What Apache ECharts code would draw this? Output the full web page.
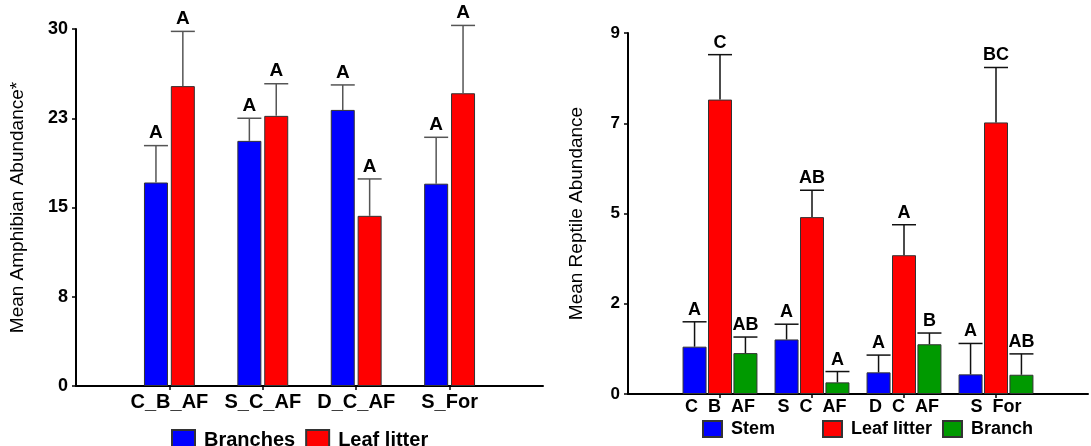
<!DOCTYPE html>
<html>
<head>
<meta charset="utf-8">
<script src="https://cdn.jsdelivr.net/npm/echarts@6/dist/echarts.min.js"></script>
<style>html,body{margin:0;padding:0;background:#fff}#c{width:1091px;height:446px}</style>
</head>
<body>
<div id="c"></div>
<script>
// ---- Left chart (amphibians) ----
const amphCategories = ['C_B_AF', 'S_C_AF', 'D_C_AF', 'S_For'];
const amphBranches = [17.1, 20.6, 23.2, 17.0];
const amphBranchesSE = [3.1, 1.9, 2.1, 3.9];
const amphLeaf = [25.2, 22.7, 14.3, 24.6];
const amphLeafSE = [4.6, 2.7, 3.1, 5.7];
const amphBranchesLetters = ['A', 'A', 'A', 'A'];
const amphLeafLetters = ['A', 'A', 'A', 'A'];
const amphTicks = { min: 0, max: 30, interval: 7.5 };

// ---- Right chart (reptiles) ----
const reptCategories = ['C  B  AF', 'S  C  AF', 'D  C  AF', 'S  For'];
const reptStem = [1.18, 1.36, 0.54, 0.49];
const reptStemSE = [0.62, 0.38, 0.43, 0.77];
const reptLeaf = [7.34, 4.41, 3.46, 6.77];
const reptLeafSE = [1.12, 0.67, 0.76, 1.37];
const reptBranch = [1.02, 0.29, 1.24, 0.48];
const reptBranchSE = [0.40, 0.27, 0.28, 0.52];
const reptStemLetters = ['A', 'A', 'A', 'A'];
const reptLeafLetters = ['C', 'AB', 'A', 'BC'];
const reptBranchLetters = ['AB', 'A', 'B', 'AB'];
const reptTicks = { min: 0, max: 9, interval: 2.25 };

const FONT = 'Liberation Sans, Arial, sans-serif';
const BLUE = '#0000ff', RED = '#ff0000', GREEN = '#009a00';
const BAR_W = 24;

const pad = arr => ['-'].concat(arr, ['-']);
const padCat = arr => [''].concat(arr, ['']);

function barSeries(name, vals, color, idx, gap) {
  return {
    type: 'bar', name: name, data: pad(vals), xAxisIndex: idx, yAxisIndex: idx,
    barWidth: BAR_W, barGap: gap,
    itemStyle: { color: color, borderColor: '#333', borderWidth: 1 },
    z: 2
  };
}

function errSeries(vals, ses, letters, offset, lineColor, idx, fontSize) {
  const data = vals.map((m, i) => [i + 1, m, m + ses[i]]);
  return {
    type: 'custom', xAxisIndex: idx, yAxisIndex: idx, z: 5, silent: true,
    data: data,
    renderItem: function (params, api) {
      const top = api.coord([api.value(0), api.value(2)]);
      const base = api.coord([api.value(0), api.value(1)]);
      const x = top[0] + offset;
      const st = { stroke: lineColor, lineWidth: 1.5 };
      return {
        type: 'group',
        children: [
          { type: 'line', shape: { x1: x, y1: base[1], x2: x, y2: top[1] }, style: st },
          { type: 'line', shape: { x1: x - BAR_W / 2, y1: top[1], x2: x + BAR_W / 2, y2: top[1] }, style: st },
          { type: 'text', style: { text: letters[params.dataIndex], x: x, y: top[1] - 3,
              textAlign: 'center', textVerticalAlign: 'bottom',
              font: 'bold ' + fontSize + 'px ' + FONT, fill: '#000' } }
        ]
      };
    }
  };
}

function xAxis(cats, idx, fontSize, margin) {
  return {
    type: 'category', gridIndex: idx, data: padCat(cats), boundaryGap: false,
    axisLine: { lineStyle: { color: '#000', width: 2 } },
    axisTick: { show: true, length: 4, lineStyle: { color: '#000', width: 1.5 },
      interval: (i) => i > 0 && i < cats.length + 1 },
    axisLabel: { interval: 0, margin: margin, color: '#000', fontWeight: 'bold', fontSize: fontSize, fontFamily: FONT },
    splitLine: { show: false }
  };
}

function yAxis(t, idx, name, nameGap, fontSize) {
  return {
    type: 'value', gridIndex: idx, min: t.min, max: t.max, interval: t.interval,
    name: name, nameLocation: 'middle', nameGap: nameGap,
    nameTextStyle: { color: '#000', fontSize: 19, fontFamily: FONT },
    axisLine: { show: true, lineStyle: { color: '#000', width: 2 } },
    axisTick: { show: true, length: 4, lineStyle: { color: '#000', width: 1.5 } },
    axisLabel: { margin: 8, color: '#000', fontWeight: 'bold', fontSize: fontSize, fontFamily: FONT,
      formatter: v => String(Math.round(v)) },
    splitLine: { show: false }
  };
}

const legendText = (fs) => ({ color: '#000', fontWeight: 'bold', fontSize: fs, fontFamily: FONT, padding: [0, 0, 0, 4] });

const chart = echarts.init(document.getElementById('c'), null, { renderer: 'canvas' });
chart.setOption({
  animation: false,
  backgroundColor: '#fff',
  grid: [
    { left: 76, right: 548, top: 29, bottom: 60 },
    { left: 628, right: 1, top: 33, bottom: 52 }
  ],
  xAxis: [xAxis(amphCategories, 0, 20, 6), xAxis(reptCategories, 1, 18, 4)],
  yAxis: [yAxis(amphTicks, 0, 'Mean Amphibian Abundance*', 49, 18),
          yAxis(reptTicks, 1, 'Mean Reptile Abundance', 42, 17)],
  legend: [
    { data: ['Branches', 'Leaf litter'], left: 166, top: 424, itemWidth: 23, itemHeight: 20, itemGap: 10,
      icon: 'rect', textStyle: legendText(20), selectedMode: false },
    { data: ['Stem'], left: 697, top: 415, itemWidth: 19, itemHeight: 16, icon: 'rect', textStyle: legendText(18), selectedMode: false },
    { data: ['Leaf litter'], left: 817, top: 415, itemWidth: 19, itemHeight: 16, icon: 'rect', textStyle: legendText(18), selectedMode: false },
    { data: ['Branch'], left: 937, top: 415, itemWidth: 19, itemHeight: 16, icon: 'rect', textStyle: legendText(18), selectedMode: false }
  ],
  series: [
    barSeries('Branches', amphBranches, BLUE, 0, '12%'),
    barSeries('Leaf litter', amphLeaf, RED, 0, '12%'),
    errSeries(amphBranches, amphBranchesSE, amphBranchesLetters, -13.44, '#555', 0, 19),
    errSeries(amphLeaf, amphLeafSE, amphLeafLetters, 13.44, '#555', 0, 19),
    barSeries('Stem', reptStem, BLUE, 1, '6%'),
    barSeries('Leaf litter', reptLeaf, RED, 1, '6%'),
    barSeries('Branch', reptBranch, GREEN, 1, '6%'),
    errSeries(reptStem, reptStemSE, reptStemLetters, -25.44, '#111', 1, 18),
    errSeries(reptLeaf, reptLeafSE, reptLeafLetters, 0, '#111', 1, 18),
    errSeries(reptBranch, reptBranchSE, reptBranchLetters, 25.44, '#111', 1, 18)
  ]
});
</script>
</body>
</html>
